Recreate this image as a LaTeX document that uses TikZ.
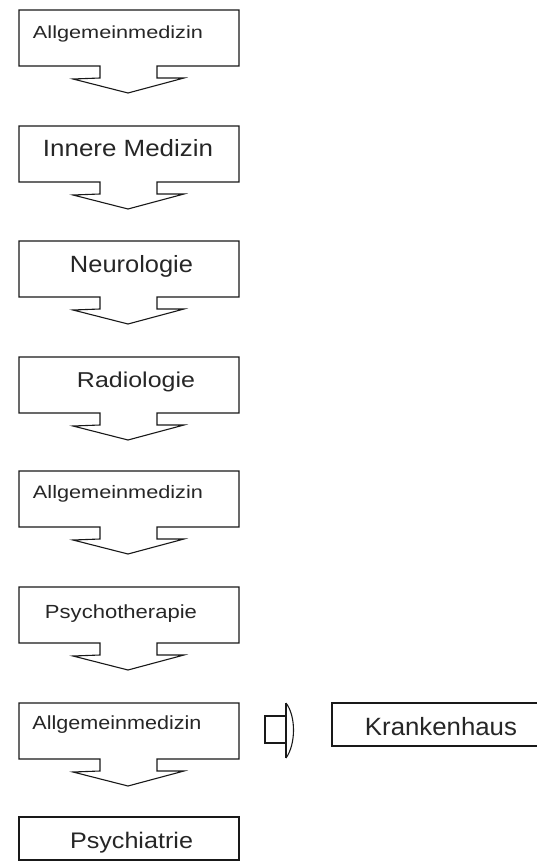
\documentclass[tikz,border=0pt]{standalone}
\usepackage{fontspec}
\setmainfont{Liberation Sans}
\newcommand{\lbl}[3]{\resizebox{#1pt}{\height}{\fontsize{#2}{#2}\selectfont #3}}
\begin{document}
\begin{tikzpicture}[x=1pt,y=-1pt,
  boxline/.style={draw=black!90,line width=1.1pt,line join=miter},
  txt/.style={anchor=base,inner sep=0pt,text=black!85},
  callout/.pic={
    \draw[boxline] (19,0) -- (239,0) -- (239,56) -- (157,56) -- (157,68) -- (184,68)
      -- (128,83) -- (73,69) -- (100,68) -- (100,56) -- (19,56) -- cycle;
  }]
\fill[white] (0,0) rectangle (537,861);
\useasboundingbox (0,0) rectangle (537,861);
% callout shapes
\pic at (0,10) {callout};
\pic at (0,126) {callout};
\pic at (0,241) {callout};
\pic at (0,357) {callout};
\pic at (0,471) {callout};
\pic at (0,587) {callout};
\pic at (0,703) {callout};
\draw[boxline] (19,817) rectangle (239,860);
% texts
\node[txt] (t1) at (118,39) {\lbl{170}{17.5}{Allgemeinmedizin}};
\node[txt] (t2) at (128,157) {\lbl{170}{23.5}{Innere Medizin}};
\node[txt] (t3) at (131.5,272) {\lbl{123}{23.5}{Neurologie}};
\node[txt] (t4) at (136,387) {\lbl{118}{21.5}{Radiologie}};
\node[txt] (t5) at (118,498) {\lbl{170}{18}{Allgemeinmedizin}};
\node[txt] (t6) at (121,618) {\lbl{152}{19}{Psychotherapie}};
\node[txt] (t7) at (117,729) {\lbl{169}{19}{Allgemeinmedizin}};
\node[txt] (t8) at (131.5,848) {\lbl{123}{22.5}{Psychiatrie}};
% Krankenhaus box (runs off the right edge)
\draw[boxline] (537,703) -- (332,703) -- (332,746) -- (537,746);
\node[txt] (k) at (441,735) {\lbl{152}{25}{Krankenhaus}};
% right block arrow
\draw[boxline] (286,716) -- (265,716) -- (265,743) -- (286,743);
\draw[boxline] (286,703) -- (286,758);
\draw[boxline] (286,703) .. controls (296,716) and (296,744) .. (286,758);
\end{tikzpicture}
\end{document}
